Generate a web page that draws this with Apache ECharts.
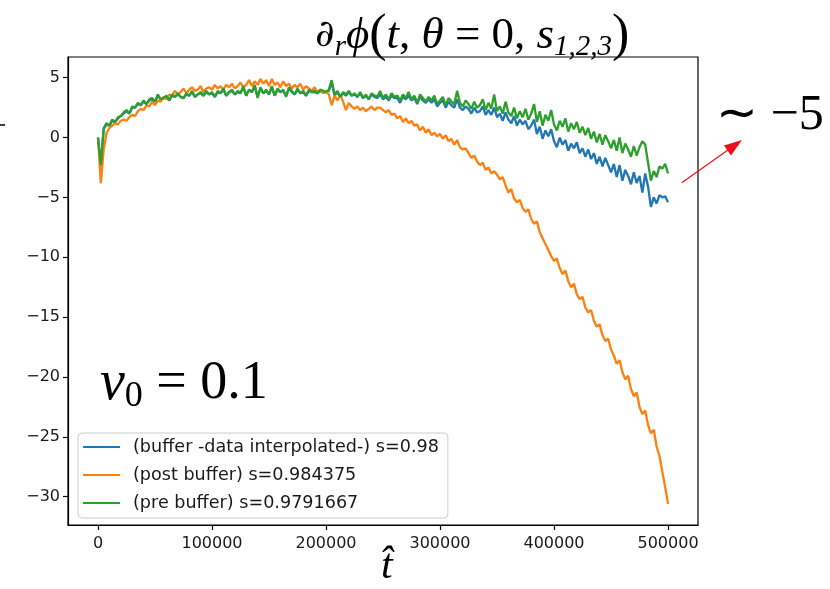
<!DOCTYPE html>
<html>
<head>
<meta charset="utf-8">
<script src="https://cdn.jsdelivr.net/npm/echarts@6/dist/echarts.min.js"></script>
<style>html,body{margin:0;padding:0;background:#fff;}#c{width:830px;height:589px;}</style>
</head>
<body>
<div id="c"></div>
<script>
// x sample positions: 0..500000 every 2500
const tStart = 0, tStep = 2500, tCount = 201;
const xTicks = [0, 100000, 200000, 300000, 400000, 500000];
const yTicks = [5, 0, -5, -10, -15, -20, -25, -30];
const seriesNames = [
  '(buffer -data interpolated-) s=0.98',
  '(post buffer) s=0.984375',
  '(pre buffer) s=0.9791667'
];
const seriesColors = ['#1f77b4', '#ff7f0e', '#2ca02c'];

const blueVals = [
  0, -2.2, 0.7, 1.1, 1.0, 1.4, 1.3, 1.6, 1.8, 2.0,
  2.2, 2.0, 2.5, 2.5, 2.8, 2.7, 3.0, 2.8, 3.1, 3.2,
  3.0, 3.5, 3.2, 3.3, 3.4, 3.1, 3.5, 3.4, 3.6, 3.4,
  3.3, 3.6, 3.5, 3.8, 3.4, 3.6, 3.7, 3.5, 3.8, 3.6,
  3.7, 3.4, 3.8, 3.7, 4.0, 3.5, 3.8, 3.9, 3.6, 3.8,
  3.7, 4.2, 3.5, 4.0, 3.8, 4.3, 3.4, 4.1, 3.7, 3.9,
  3.6, 4.2, 3.5, 4.0, 3.8, 3.9, 3.5, 4.1, 3.8, 3.6,
  4.0, 3.7, 3.8, 3.5, 3.9, 3.8, 3.8, 3.7, 3.9, 3.8,
  3.8, 3.9, 4.6, 3.5, 3.8, 3.4, 3.7, 3.5, 3.8, 3.5,
  3.6, 3.4, 3.7, 3.3, 3.5, 3.2, 3.6, 3.4, 3.3, 3.6,
  3.2, 3.4, 3.1, 3.5, 3.3, 3.3, 2.9, 3.4, 3.2, 3.5,
  3.1, 3.3, 2.8, 3.4, 3.1, 2.9, 3.2, 2.9, 3.2, 2.6,
  2.9, 3.1, 2.5, 3.0, 2.7, 2.5, 3.2, 2.5, 2.3, 2.6,
  2.4, 2.0, 2.5, 2.1, 2.2, 2.6, 1.9, 2.3, 1.9, 2.5,
  1.7, 2.0, 1.4, 2.1, 1.5, 1.2, 1.8, 1.0, 1.5, 1.1,
  1.4, 0.7, 1.0, 1.5, 0.3, 0.9, -0.1, 0.6, 0.1, 0.7,
  -0.3, -0.8, 0.0, -0.6, -0.2, -1.1, -0.5, -0.9, -0.4, -1.3,
  -0.9, -1.6, -1.0, -1.8, -1.3, -2.2, -1.6, -2.4, -1.7, -2.3,
  -2.9, -2.2, -3.3, -2.3, -3.6, -2.7, -3.2, -3.9, -2.9, -3.8,
  -3.2, -4.6, -3.0, -4.1, -5.8, -5.0, -5.5, -4.8, -5.0, -4.9,
  -5.4
];
const orangeVals = [
  0, -3.8, -1.0, 0.4, 0.8, 1.0, 1.2, 1.1, 1.4, 1.5,
  1.4, 1.7, 1.9, 1.8, 2.2, 2.4, 2.3, 2.7, 2.6, 3.0,
  2.7, 3.1, 3.0, 3.4, 3.2, 3.6, 3.5, 3.9, 3.6, 3.8,
  4.1, 3.7, 4.0, 4.2, 3.9, 4.0, 4.3, 3.8, 4.1, 4.2,
  4.0, 4.4, 4.1, 4.3, 4.0, 4.4, 4.2, 4.5, 4.1, 4.3,
  4.6, 4.2, 4.4, 4.8, 4.3, 4.7, 4.4, 4.9, 4.5, 4.8,
  4.3, 4.9, 4.4, 4.6, 4.2, 4.7, 4.3, 4.5, 4.1, 4.4,
  4.2, 4.5, 4.0, 4.3, 4.1, 3.9, 4.2, 3.8, 4.0, 3.7,
  3.9, 3.6, 2.7, 3.5, 3.1, 3.6, 3.0, 2.3, 2.9, 2.6,
  2.4, 2.6, 2.3, 2.5, 2.2, 2.4, 2.6, 2.3, 2.5, 2.5,
  2.3, 2.1, 2.3, 1.9, 2.0, 1.6, 1.8, 1.3, 1.6, 1.2,
  1.4, 1.0, 1.1, 0.6, 0.9, 0.4, 0.7, 0.2, 0.4, 0.1,
  0.3, -0.1, 0.2, -0.3, -0.1, -0.6, -0.2, -0.8, -1.0, -0.9,
  -1.3, -1.7, -1.5, -2.0, -2.3, -2.1, -2.7, -2.5, -3.0, -2.8,
  -3.1, -3.5, -3.3, -4.0, -4.6, -4.3, -5.1, -5.4, -5.2, -5.9,
  -6.2, -6.0, -6.8, -7.2, -7.0, -7.9, -8.4, -8.9, -9.4, -9.9,
  -10.3, -10.1, -10.9, -11.4, -11.1, -12.0, -12.5, -12.2, -13.1, -13.5,
  -13.3, -14.2, -14.6, -14.4, -15.3, -15.8, -15.6, -16.5, -17.0, -16.8,
  -17.7, -18.2, -18.9, -18.6, -19.6, -20.2, -19.9, -21.0, -21.6, -21.3,
  -22.5, -23.1, -22.8, -24.0, -24.7, -24.4, -25.8, -26.6, -27.9, -29.2,
  -30.6
];
const greenVals = [
  0, -2.3, 0.8, 1.2, 1.0, 1.5, 1.3, 1.7, 1.8, 2.1,
  2.3, 2.0, 2.6, 2.5, 2.9, 2.7, 3.1, 2.8, 3.2, 3.3,
  3.0, 3.6, 3.2, 3.3, 3.5, 3.1, 3.6, 3.4, 3.7, 3.4,
  3.3, 3.7, 3.5, 3.9, 3.4, 3.6, 3.8, 3.5, 3.9, 3.6,
  3.8, 3.4, 3.9, 3.7, 4.1, 3.5, 3.8, 4.0, 3.6, 3.9,
  3.7, 4.3, 3.5, 4.0, 3.8, 4.4, 3.3, 4.2, 3.7, 4.0,
  3.6, 4.3, 3.5, 4.1, 3.8, 4.0, 3.4, 4.2, 3.9, 3.6,
  4.1, 3.7, 3.9, 3.5, 4.0, 3.8, 3.9, 3.7, 4.0, 3.9,
  3.8, 4.0, 4.8, 3.6, 3.9, 3.4, 3.8, 3.6, 3.9, 3.5,
  3.7, 3.4, 3.8, 3.3, 3.6, 3.2, 3.7, 3.5, 3.4, 3.9,
  3.3, 3.6, 3.2, 3.7, 3.4, 3.5, 3.1, 3.6, 3.3, 3.8,
  3.2, 3.5, 2.9, 3.6, 3.3, 3.0, 3.4, 3.1, 3.5, 2.8,
  3.1, 3.4, 2.7, 3.3, 3.0, 2.8, 3.9, 2.9, 2.6, 3.1,
  2.8, 2.4, 3.0, 2.5, 2.7, 3.2, 2.3, 2.9, 2.4, 3.6,
  2.2, 2.6, 2.0, 3.0, 2.1, 1.8, 2.5, 1.6, 2.2, 1.7,
  2.4, 1.5, 2.0, 2.8, 1.3, 2.2, 1.0, 1.9, 1.4, 2.3,
  1.1, 0.6, 1.4, 0.9, 1.6, 0.5, 1.2, 0.7, 1.3, 0.4,
  0.9, 0.2, 0.8, -0.1, 0.5, -0.4, 0.3, -0.6, 0.2, -0.3,
  -0.9, -0.2, -1.1, 0.0, -1.3, -0.5, -1.0, -1.6, -0.7, -1.5,
  -0.8, -0.3, -0.6, -2.1, -3.6, -2.8, -3.3, -2.4, -2.6, -2.2,
  -3.0
];

function pairs(vals) {
  return vals.map((v, i) => [tStart + i * tStep, v]);
}
const minusFmt = v => (v < 0 ? '\u2212' + Math.abs(v) : String(v));
const tickFont = { fontFamily: 'DejaVu Sans', fontSize: 16, color: '#1a1a1a' };

const chart = echarts.init(document.getElementById('c'), null, { renderer: 'canvas' });
const allVals = [blueVals, orangeVals, greenVals];

chart.setOption({
  backgroundColor: '#fff',
  animation: false,
  title: {
    left: 310, top: 5,
    text: '{d|∂}{sub|r}{i|ϕ}{p|(}{i|t}{n|, }{i|θ}{n| = 0, }{i|s}{sub|1,2,3}{p|)}',
    textStyle: {
      fontWeight: 'normal',
      rich: {
        d: { fontFamily: 'DejaVu Serif', fontWeight: 'normal', fontSize: 38, color: '#000' },
        i: { fontFamily: 'Liberation Serif', fontWeight: 'normal', fontStyle: 'italic', fontSize: 45, color: '#000' },
        n: { fontFamily: 'Liberation Serif', fontWeight: 'normal', fontSize: 45, color: '#000' },
        p: { fontFamily: 'Liberation Serif', fontWeight: 'normal', fontSize: 52, color: '#000' },
        sub: { fontFamily: 'Liberation Serif', fontWeight: 'normal', fontStyle: 'italic', fontSize: 29, color: '#000', verticalAlign: 'bottom', padding: [18, 0, 0, 0] }
      }
    }
  },
  grid: { left: 68, top: 57, width: 630, height: 468, show: true, borderColor: '#000', borderWidth: 1.2, backgroundColor: 'transparent' },
  legend: {
    data: seriesNames,
    orient: 'vertical',
    left: 78, top: 433,
    icon: 'rect',
    itemWidth: 37, itemHeight: 2.2,
    itemGap: 10,
    backgroundColor: '#fff',
    borderColor: '#cccccc', borderWidth: 1, borderRadius: 4,
    padding: [5, 9, 6, 5],
    textStyle: { fontFamily: 'DejaVu Sans', fontSize: 17.6, color: '#1a1a1a', lineHeight: 17, padding: [0, 0, 0, 8] }
  },
  xAxis: {
    type: 'value', min: -26300, max: 526300,
    axisLine: { show: true, onZero: false, lineStyle: { color: '#000', width: 1.2 } },
    axisTick: { show: true, length: 5, customValues: xTicks, lineStyle: { color: '#000', width: 1.2 } },
    axisLabel: Object.assign({ customValues: xTicks, margin: 11, formatter: v => String(v) }, tickFont),
    splitLine: { show: false }
  },
  yAxis: {
    type: 'value', min: -32.36, max: 6.73,
    axisLine: { show: true, onZero: false, lineStyle: { color: '#000', width: 1.2 } },
    axisTick: { show: true, length: 5, customValues: yTicks, lineStyle: { color: '#000', width: 1.2 } },
    axisLabel: Object.assign({ customValues: yTicks, margin: 8, formatter: minusFmt }, tickFont),
    splitLine: { show: false }
  },
  series: seriesNames.map((name, k) => ({
    name, type: 'line', data: pairs(allVals[k]), symbol: 'none', z: 2 + k,
    lineStyle: { color: seriesColors[k], width: 2.3 },
    itemStyle: { color: seriesColors[k] }
  })),
  graphic: [
    { type: 'text', left: 100, top: 356, style: {
        text: '{i|ν}{s|0}{n| = 0.1}',
        rich: {
          i: { fontFamily: 'Liberation Serif', fontStyle: 'italic', fontSize: 56, fill: '#000' },
          s: { fontFamily: 'Liberation Serif', fontSize: 36, fill: '#000', padding: [26, 0, 0, 0] },
          n: { fontFamily: 'Liberation Serif', fontSize: 54, fill: '#000' }
        } } },
    { type: 'text', left: 716, top: 91, style: { text: '∼ −5', font: '50px "Liberation Serif"', fill: '#000' } },
    { type: 'text', left: 381, top: 546, style: { text: 't\u0302', font: 'italic 42px "Liberation Serif"', fill: '#000' } },
    { type: 'line', shape: { x1: 681.7, y1: 182.7, x2: 728, y2: 150 }, style: { stroke: '#e8101a', lineWidth: 1.2 } },
    { type: 'polygon', shape: { points: [[742, 140], [731, 155.5], [724, 145.5]] }, style: { fill: '#e8101a' } },
    { type: 'line', shape: { x1: 0, y1: 125, x2: 5, y2: 125 }, style: { stroke: '#000', lineWidth: 1.5 } }
  ]
});
</script>
</body>
</html>
